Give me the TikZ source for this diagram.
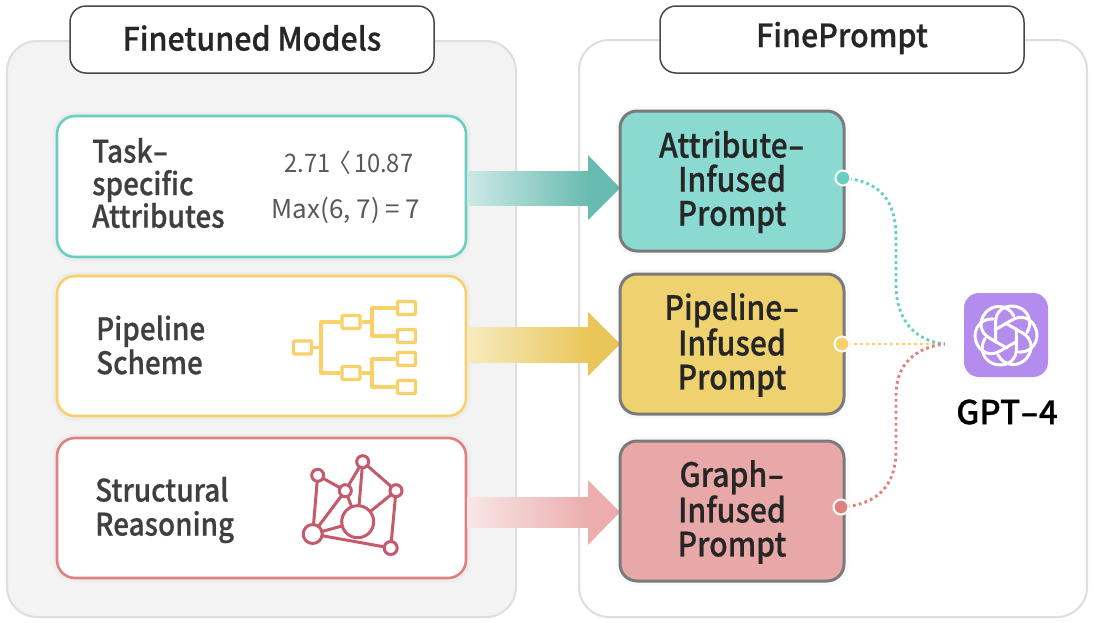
\documentclass[tikz,border=0pt]{standalone}
\usepackage{graphicx}
\usepackage{fontspec}
\setmainfont{Noto Sans CJK KR}
\newfontfamily\medfont{Noto Sans CJK KR Medium}[FakeStretch=0.9,FakeBold=0.5]
\newfontfamily\headfont{Noto Sans CJK KR Medium}[FakeStretch=0.95,FakeBold=0.6]
\newfontfamily\gptfont{Noto Sans CJK KR Medium}[FakeStretch=1.0,FakeBold=0.7]
\newfontfamily\numfont{Noto Sans CJK KR}[FakeStretch=0.93]
\newcommand{\longhy}{\scalebox{1.6}[1]{-}}
\definecolor{panelfill}{HTML}{F3F3F3}
\definecolor{panelline}{HTML}{DEDEDE}
\definecolor{titleline}{HTML}{484848}
\definecolor{teal}{HTML}{67D0C3}
\definecolor{yel}{HTML}{F8D16A}
\definecolor{rd}{HTML}{E08080}
\definecolor{tealfill}{HTML}{8ADAD2}
\definecolor{yelfill}{HTML}{EFD270}
\definecolor{rdfill}{HTML}{E9A8A8}
\definecolor{cardline}{HTML}{7A7A7A}
\definecolor{ink}{HTML}{3F3F3F}
\definecolor{graphc}{HTML}{C45A6B}
\definecolor{purp}{HTML}{B48CEE}
\definecolor{tealA}{HTML}{CDE9E6}
\definecolor{tealB}{HTML}{68BBB0}
\definecolor{yelA}{HTML}{F6EBC0}
\definecolor{yelB}{HTML}{E9C658}
\definecolor{rdA}{HTML}{F9E6E6}
\definecolor{rdB}{HTML}{EBADAD}
\tikzset{
  x=1pt,y=-1pt,
  panel/.style={draw=panelline,line width=2pt,rounded corners=30pt},
  titlebox/.style={draw=titleline,fill=white,line width=1.5pt,rounded corners=16pt},
  softedge/.style={preaction={draw=black,draw opacity=.025,line width=9pt}},
  srcbox/.style={softedge,fill=white,line width=2.6pt,rounded corners=18pt},
  dstbox/.style={softedge,draw=cardline,line width=3pt,rounded corners=17pt},
  titletext/.style={font=\headfont\fontsize{32}{36}\selectfont,text=black!85},
  boxtext/.style={font=\medfont\fontsize{31}{34}\selectfont,text=ink,align=left,inner sep=0pt,anchor=west},
  dsttext/.style={font=\medfont\fontsize{33.5}{34}\selectfont,text=black!85,align=center,inner sep=0pt},
  mathtext/.style={font=\numfont\fontsize{25.5}{28}\selectfont,text=black!65,inner sep=0pt},
  portdot/.style={circle,draw=white,line width=2pt,minimum size=15pt,inner sep=0pt},
  link/.style={line width=2.9pt,dash pattern=on 2.8pt off 3.2pt},
  treebox/.style={draw=yel,line width=3.2pt,fill=white,rounded corners=0.8pt,minimum width=18pt,minimum height=13pt,inner sep=0pt},
  treeline/.style={draw=yel,line width=3.2pt,line join=round},
  gnode/.style={circle,draw=graphc,line width=3pt,fill=white,inner sep=0pt},
  gedge/.style={draw=graphc,line width=3pt},
}
\begin{document}
\begin{tikzpicture}
\useasboundingbox (0,0) rectangle (1094,622);
\fill[white] (0,0) rectangle (1094,622);
% panels
\draw[panel,fill=panelfill] (7,41) rectangle (516,617);
\draw[panel,fill=white] (579,40) rectangle (1087,617);
\draw[titlebox] (70,6) rectangle (434,73);
\draw[titlebox] (660,6) rectangle (1024,73);
\node[titletext] (t1) at (252,38) {Finetuned Models};
\node[titletext] (t2) at (842,38) {FinePrompt};
% source cards
\draw[srcbox,draw=teal] (57,116) rectangle (466,257);
\draw[srcbox,draw=yel] (57,276) rectangle (466,416);
\draw[srcbox,draw=rd] (57,438) rectangle (466,578);
\node[boxtext,font=\medfont\fontsize{31}{32.5}\selectfont] (s1) at (92,183) {Task\longhy\\specific\\Attributes};
\node[boxtext] (s2) at (96,345) {Pipeline\\Scheme};
\node[boxtext] (s3) at (95,510) {Structural\\Reasoning};
\node[mathtext] (m1) at (349,162.5) {2.71\kern-3.5pt〈\kern3pt10.87};
\node[mathtext,font=\fontsize{26}{28}\selectfont] (m2) at (346,210) {Max(6, 7) = 7};
% arrows
\shade[left color=tealA,right color=tealB] (467,171) rectangle (589,205);
\fill[tealB] (588,155) -- (620,188) -- (588,220) -- cycle;
\shade[left color=yelA,right color=yelB] (467,327) rectangle (589,362);
\fill[yelB] (588,312) -- (620,344) -- (588,376) -- cycle;
\shade[left color=rdA,right color=rdB] (467,497) rectangle (589,527);
\fill[rdB] (588,480) -- (620,512) -- (588,545) -- cycle;
% destination cards
\draw[dstbox,fill=tealfill] (620,111) rectangle (844,251);
\draw[dstbox,fill=yelfill] (620,274) rectangle (844,414);
\draw[dstbox,fill=rdfill] (620,441) rectangle (844,581);
\node[dsttext] (d1) at (732,182) {Attribute\longhy\\Infused\\Prompt};
\node[dsttext] (d2) at (732,345) {Pipeline\longhy\\Infused\\Prompt};
\node[dsttext] (d3) at (732,512) {Graph\longhy\\Infused\\Prompt};
% tree icon
\node[treebox] (r) at (302.5,347.5) {};
\node[treebox] (a) at (351,322) {};
\node[treebox] (b) at (351,373) {};
\node[treebox] (a1) at (406.5,308) {};
\node[treebox] (a2) at (406.5,336) {};
\node[treebox] (b1) at (406.5,359) {};
\node[treebox] (b2) at (406.5,387) {};
\coordinate (rj) at (321,347.5);
\coordinate (aj) at (372,322);
\coordinate (bj) at (372,373);
\draw[treeline] (r) -- (rj);
\draw[treeline] (a.west) -| (rj) |- (b.west);
\draw[treeline] (a) -- (aj);
\draw[treeline] (b) -- (bj);
\draw[treeline] (a1.west) -| (aj) |- (a2.west);
\draw[treeline] (b1.west) -| (bj) |- (b2.west);
% graph icon
\coordinate (gac) at (362.7,461.7);
\coordinate (gbc) at (317.7,475.3);
\coordinate (gcc) at (345.3,490.7);
\coordinate (gdc) at (396,490.7);
\coordinate (gec) at (357.7,521.7);
\coordinate (gfc) at (312.7,534);
\coordinate (ggc) at (390.7,548);
\foreach \u/\v in {gac/gcc,gac/gdc,gac/gec,gbc/gcc,gbc/gfc,gcc/gfc,gcc/gec,gdc/gec,gdc/ggc,gec/gfc,gfc/ggc}
  \draw[gedge] (\u) -- (\v);
\node[gnode,minimum size=12pt] (ga) at (gac) {};
\node[gnode,minimum size=12pt] (gb) at (gbc) {};
\node[gnode,minimum size=12pt] (gc) at (gcc) {};
\node[gnode,minimum size=12pt] (gd) at (gdc) {};
\node[gnode,minimum size=32pt] (ge) at (gec) {};
\node[gnode,minimum size=19pt] (gf) at (gfc) {};
\node[gnode,minimum size=13pt] (gg) at (ggc) {};
% port dots and links
\coordinate (hub) at (945,344);
\draw[link,draw=yel] (842,344) -- (hub);
\draw[link,draw=teal] (843,178) .. controls (880,181) and (896,200) .. (896,238) -- (896,285) .. controls (896,320) and (915,341) .. (hub);
\draw[link,draw=rd] (841,507) .. controls (878,505) and (896,485) .. (896,450) -- (896,395) .. controls (896,365) and (915,347) .. (hub);
\node[portdot,fill=teal] (p1) at (843,178) {};
\node[portdot,fill=yel] (p2) at (842,344) {};
\node[portdot,fill=rd] (p3) at (841,507) {};
% GPT-4
\fill[purp,rounded corners=15pt] (964,293) rectangle (1048,377);
\begin{scope}[shift={(1006,335.5)},scale=0.95]
\foreach \k in {0,60,...,300}
  \draw[rotate=\k,draw=white,line width=3pt,line cap=round] (-11,7) -- (-11,-14) .. controls (-11,-25) and (-3,-31) .. (6,-31) .. controls (17,-31) and (25,-23) .. (25,-13) .. controls (25,-10) and (24,-6) .. (22,-3);
\end{scope}
\node[font=\gptfont\fontsize{33}{36}\selectfont,text=black,inner sep=0pt] (g) at (1007,412) {GPT\longhy 4};
\end{tikzpicture}
\end{document}
